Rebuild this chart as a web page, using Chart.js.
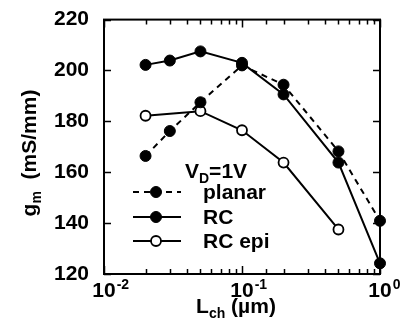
<!DOCTYPE html>
<html>
<head>
<meta charset="utf-8">
<script src="https://cdn.jsdelivr.net/npm/chart.js@4"></script>
<style>
  html, body { margin: 0; padding: 0; background: #fff; }
  #wrap { width: 406px; height: 333px; }
</style>
</head>
<body>
<div id="wrap"><canvas id="gmChart" width="406" height="333"></canvas></div>
<script>
// channel length (um) and transconductance (mS/mm)
const lchPlanar = [0.02, 0.03, 0.05, 0.1, 0.2, 0.5, 1.0];
const gmPlanar  = [166.4, 176.2, 187.5, 202, 194.4, 168.2, 140.9];
const lchRC     = [0.02, 0.03, 0.05, 0.1, 0.2, 0.5, 1.0];
const gmRC      = [202.2, 203.9, 207.5, 203, 190.6, 163.8, 124.2];
const lchEpi    = [0.02, 0.05, 0.1, 0.2, 0.5];
const gmEpi     = [182.2, 184, 176.5, 163.8, 137.5];

const seriesNames = ["planar", "RC", "RC epi"];
const xDecades = [0.01, 0.1, 1];
const xExponents = ["-2", "-1", "0"];

const FONT = "Liberation Sans, Arial, Helvetica, sans-serif";
const BIG = "bold 21px " + FONT;
const SMALL = "bold 14px " + FONT;

function pts(xs, ys) {
  return xs.map((x, i) => ({ x: x, y: ys[i] }));
}

// draw a run of [text, font, dy] pieces left to right
function drawParts(ctx, parts, x0, base) {
  parts.forEach(p => {
    ctx.font = p[1];
    ctx.fillText(p[0], x0, base + p[2]);
    x0 += ctx.measureText(p[0]).width;
  });
}
function partsWidth(ctx, parts) {
  let w = 0;
  parts.forEach(p => { ctx.font = p[1]; w += ctx.measureText(p[0]).width; });
  return w;
}

// axes box, inward ticks, x labels with exponents, axis titles and legend
const decorPlugin = {
  id: "decor",
  afterDraw(chart) {
    const ctx = chart.ctx;
    const area = chart.chartArea;
    const xs = chart.scales.x;
    const ys = chart.scales.y;
    ctx.save();
    ctx.strokeStyle = "#000";
    ctx.fillStyle = "#000";

    // frame
    ctx.lineWidth = 2;
    ctx.strokeRect(area.left, area.top, area.right - area.left, area.bottom - area.top);

    // x ticks (log)
    ctx.lineWidth = 1.5;
    xs.ticks.forEach(t => {
      const px = Math.round(xs.getPixelForValue(t.value)) + 0.5;
      const lg = Math.log10(t.value);
      const major = Math.abs(lg - Math.round(lg)) < 1e-6;
      const len = major ? 8 : 5;
      ctx.beginPath();
      ctx.moveTo(px, area.bottom); ctx.lineTo(px, area.bottom - len);
      ctx.moveTo(px, area.top); ctx.lineTo(px, area.top + len);
      ctx.stroke();
    });

    // y ticks
    ys.ticks.forEach(t => {
      const py = Math.round(ys.getPixelForValue(t.value)) + 0.5;
      ctx.beginPath();
      ctx.moveTo(area.left, py); ctx.lineTo(area.left + 7, py);
      ctx.moveTo(area.right, py); ctx.lineTo(area.right - 7, py);
      ctx.stroke();
    });

    // x tick labels 10^n
    ctx.textBaseline = "alphabetic";
    xDecades.forEach((v, i) => {
      const px = xs.getPixelForValue(v);
      ctx.font = BIG;
      ctx.textAlign = "center";
      ctx.fillText("10", px, area.bottom + 23);
      const w = ctx.measureText("10").width;
      ctx.font = SMALL;
      ctx.textAlign = "left";
      ctx.fillText(xExponents[i], px + w / 2 + 1, area.bottom + 15);
    });
    ctx.textAlign = "left";

    // x title: L_ch (um)
    const xt = [["L", BIG, 0], ["ch", SMALL, 5], [" (\u00b5m)", BIG, 0]];
    drawParts(ctx, xt, (area.left + area.right) / 2 - 6 - partsWidth(ctx, xt) / 2, 313);

    // y title: g_m (mS/mm)
    const yt = [["g", BIG, 0], ["m", SMALL, 5], ["  (mS/mm)", BIG, 0]];
    const yw = partsWidth(ctx, yt);
    ctx.save();
    ctx.translate(36, 153 + yw / 2);
    ctx.rotate(-Math.PI / 2);
    drawParts(ctx, yt, 0, 0);
    ctx.restore();

    // legend heading V_D=1V
    drawParts(ctx, [["V", BIG, 0], ["D", SMALL, 5], ["=1V", BIG, 0]], 185, 178);

    // legend rows
    const rowY = [192, 217, 241];
    chart.data.datasets.forEach((ds, i) => {
      const y = rowY[i];
      ctx.lineWidth = ds.borderWidth;
      ctx.setLineDash(ds.borderDash || []);
      ctx.beginPath();
      ctx.moveTo(133, y); ctx.lineTo(181, y);
      ctx.stroke();
      ctx.setLineDash([]);
      ctx.beginPath();
      ctx.arc(156, y, ds.pointRadius, 0, Math.PI * 2);
      ctx.fillStyle = ds.pointBackgroundColor;
      ctx.fill();
      ctx.lineWidth = ds.pointBorderWidth;
      ctx.stroke();
      ctx.fillStyle = "#000";
      ctx.font = BIG;
      ctx.textBaseline = "middle";
      ctx.fillText(seriesNames[i], 203, y + 1);
      ctx.textBaseline = "alphabetic";
    });

    ctx.restore();
  }
};

const ctx = document.getElementById("gmChart").getContext("2d");
new Chart(ctx, {
  type: "line",
  data: {
    datasets: [
      {
        label: seriesNames[0],
        data: pts(lchPlanar, gmPlanar),
        borderColor: "#000",
        borderWidth: 2,
        borderDash: [6, 5],
        pointRadius: 5.5,
        pointBackgroundColor: "#000",
        pointBorderColor: "#000",
        pointBorderWidth: 1,
        clip: false
      },
      {
        label: seriesNames[1],
        data: pts(lchRC, gmRC),
        borderColor: "#000",
        borderWidth: 2,
        pointRadius: 5.5,
        pointBackgroundColor: "#000",
        pointBorderColor: "#000",
        pointBorderWidth: 1,
        clip: false
      },
      {
        label: seriesNames[2],
        data: pts(lchEpi, gmEpi),
        borderColor: "#000",
        borderWidth: 2,
        pointRadius: 5,
        pointBackgroundColor: "#fff",
        pointBorderColor: "#000",
        pointBorderWidth: 1.8,
        clip: false
      }
    ]
  },
  options: {
    responsive: false,
    animation: false,
    devicePixelRatio: 1,
    layout: { padding: { top: 19, right: 26, left: 0, bottom: 0 } },
    plugins: {
      legend: { display: false },
      tooltip: { enabled: false }
    },
    scales: {
      x: {
        type: "logarithmic",
        min: 0.01,
        max: 1,
        grid: { display: false },
        border: { display: false },
        ticks: { display: false },
        afterFit(scale) { scale.height = 59; }
      },
      y: {
        min: 120,
        max: 220,
        grid: { display: false },
        border: { display: false },
        ticks: {
          stepSize: 10,
          padding: 7,
          color: "#000",
          font: { family: FONT, size: 21, weight: "bold" },
          callback: v => (v % 20 === 0 ? v : "")
        },
        afterFit(scale) { scale.width = 104; }
      }
    }
  },
  plugins: [decorPlugin]
});
</script>
</body>
</html>
